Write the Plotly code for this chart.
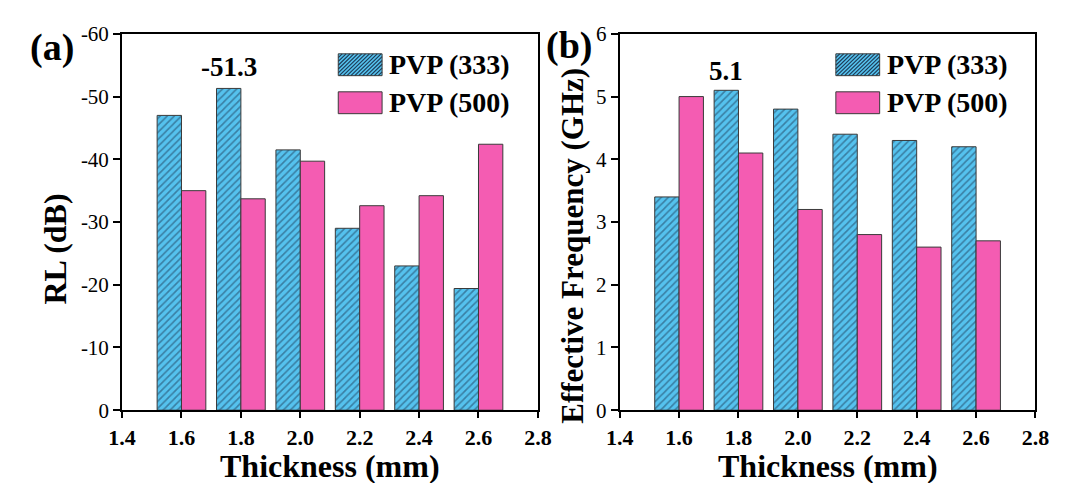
import plotly.graph_objects as go

# ---------------- data ----------------
thickness = [1.6, 1.8, 2.0, 2.2, 2.4, 2.6]
rl_pvp333 = [-47.0, -51.3, -41.5, -29.0, -23.0, -19.4]
rl_pvp500 = [-35.0, -33.7, -39.7, -32.6, -34.2, -42.4]
freq_pvp333 = [3.4, 5.1, 4.8, 4.4, 4.3, 4.2]
freq_pvp500 = [5.0, 4.1, 3.2, 2.8, 2.6, 2.7]
series_names = ["PVP (333)", "PVP (500)"]
x_ticks = [1.4, 1.6, 1.8, 2.0, 2.2, 2.4, 2.6, 2.8]
x_ticktext = ["1.4", "1.6", "1.8", "2.0", "2.2", "2.4", "2.6", "2.8"]
rl_ticks = [0, -10, -20, -30, -40, -50, -60]
rl_ticktext = ["0", "-10", "-20", "-30", "-40", "-50", "-60"]
freq_ticks = [0, 1, 2, 3, 4, 5, 6]
freq_ticktext = ["0", "1", "2", "3", "4", "5", "6"]

# ---------------- style ----------------
W, H = 1067, 483
FONT = "Liberation Serif"
BLUE = "#55C2EE"
HATCH = "#1E3C58"
PINK = "#F45CB2"
EDGE = "#3a3a3a"
BW = 0.082

def px2x(px):
    return px / W

def px2y(py):
    return 1 - py / H

# plot areas in pixels
L1, R1 = 111, 538
L2, R2 = 622, 1049
TOP, BOT = 23, 419

fig = go.Figure()

def add_bars(xa, ya, v333, v500):
    fig.add_trace(go.Bar(
        x=thickness, y=v333, name=series_names[0], width=BW, offset=-BW,
        marker=dict(color=BLUE, line=dict(color=EDGE, width=1),
                    pattern=dict(shape="/", size=5, solidity=0.33,
                                 fgcolor=HATCH, fillmode="overlay")),
        xaxis=xa, yaxis=ya, showlegend=False, hoverinfo="skip"))
    fig.add_trace(go.Bar(
        x=thickness, y=v500, name=series_names[1], width=BW, offset=0,
        marker=dict(color=PINK, line=dict(color=EDGE, width=1)),
        xaxis=xa, yaxis=ya, showlegend=False, hoverinfo="skip"))

add_bars("x", "y", rl_pvp333, rl_pvp500)
add_bars("x2", "y2", freq_pvp333, freq_pvp500)

xcommon = dict(range=[1.4, 2.8], tickvals=x_ticks, ticktext=x_ticktext,
               ticks="outside", ticklen=6, tickwidth=2, tickcolor="black",
               showline=True, linewidth=2, linecolor="black", mirror=True,
               showgrid=False, zeroline=False,
               tickfont=dict(family=FONT, size=22, color="black", weight="bold"))
ycommon = dict(ticks="outside", ticklen=7, tickwidth=2, tickcolor="black",
               showline=True, linewidth=2, linecolor="black", mirror=True,
               showgrid=False, zeroline=False,
               tickfont=dict(family=FONT, size=21, color="black"))

fig.update_layout(
    width=W, height=H, margin=dict(l=0, r=0, t=0, b=0),
    paper_bgcolor="white", plot_bgcolor="white", barmode="overlay",
    showlegend=False,
    xaxis=dict(domain=[px2x(L1), px2x(R1)], anchor="y", **xcommon),
    xaxis2=dict(domain=[px2x(L2), px2x(R2)], anchor="y2", **xcommon),
    yaxis=dict(domain=[px2y(BOT), px2y(TOP)], anchor="x", range=[0, -60],
               tickvals=rl_ticks, ticktext=rl_ticktext, **ycommon),
    yaxis2=dict(domain=[px2y(BOT), px2y(TOP)], anchor="x2", range=[0, 6],
                tickvals=freq_ticks, ticktext=freq_ticktext, **ycommon),
)

ann = []
def txt(x, y, s, size, bold=True, angle=0, xanchor="center", yanchor="middle"):
    ann.append(dict(x=px2x(x), y=px2y(y), xref="paper", yref="paper", text=s,
                    showarrow=False, textangle=angle, xanchor=xanchor, yanchor=yanchor,
                    font=dict(family=FONT, size=size, color="black",
                              weight="bold" if bold else "normal")))

# axis titles
txt((L1 + R1) / 2, 478, "Thickness (mm)", 32)
txt((L2 + R2) / 2, 478, "Thickness (mm)", 32)
txt(42, 249, "RL (dB)", 32, angle=-90)
txt(574, 246, "Effective Frequency (GHz)", 31, angle=-90)
# panel labels
txt(39, 37, "(a)", 38)
txt(570, 35, "(b)", 38)

# value labels on the peak bars
i1 = rl_pvp333.index(min(rl_pvp333))
ann.append(dict(x=thickness[i1] - BW / 2, y=rl_pvp333[i1], xref="x", yref="y",
                text=f"{rl_pvp333[i1]:.1f}", showarrow=False, yanchor="bottom", yshift=4,
                font=dict(family=FONT, size=27, color="black", weight="bold")))
i2 = freq_pvp333.index(max(freq_pvp333))
ann.append(dict(x=thickness[i2] - BW / 2, y=freq_pvp333[i2], xref="x2", yref="y2",
                text=f"{freq_pvp333[i2]:.1f}", showarrow=False, yanchor="bottom", yshift=2,
                font=dict(family=FONT, size=27, color="black", weight="bold")))

# custom legends
shapes = []
def hatch_path(x0, y0, x1, y1, step=4):
    segs = []
    c = x0 + y0 + step
    while c < x1 + y1:
        pts = []
        for xx in (x0, x1):
            yy = c - xx
            if y0 <= yy <= y1:
                pts.append((xx, yy))
        for yy in (y0, y1):
            xx = c - yy
            if x0 <= xx <= x1:
                pts.append((xx, yy))
        if len(pts) >= 2:
            pts = sorted(set(pts))
            (ax, ay), (bx, by) = pts[0], pts[-1]
            segs.append(f"M{px2x(ax):.5f},{px2y(ay):.5f}L{px2x(bx):.5f},{px2y(by):.5f}")
        c += step
    return "".join(segs)

def legend(left):
    sx0, sx1 = left + 222, left + 267
    rows = [(44, 67), (84, 107)]
    y0, y1 = rows[0]
    shapes.append(dict(type="rect", xref="paper", yref="paper",
                       x0=px2x(sx0), x1=px2x(sx1), y0=px2y(y1), y1=px2y(y0),
                       fillcolor=BLUE, line=dict(width=0), layer="above"))
    shapes.append(dict(type="path", xref="paper", yref="paper",
                       path=hatch_path(sx0, y0, sx1, y1), line=dict(color=HATCH, width=1.2),
                       layer="above"))
    shapes.append(dict(type="rect", xref="paper", yref="paper",
                       x0=px2x(sx0), x1=px2x(sx1), y0=px2y(y1), y1=px2y(y0),
                       fillcolor="rgba(0,0,0,0)", line=dict(color=EDGE, width=1), layer="above"))
    y0, y1 = rows[1]
    shapes.append(dict(type="rect", xref="paper", yref="paper",
                       x0=px2x(sx0), x1=px2x(sx1), y0=px2y(y1), y1=px2y(y0),
                       fillcolor=PINK, line=dict(color=EDGE, width=1), layer="above"))
    for (ya, yb), name in zip(rows, series_names):
        txt(sx1 + 5, (ya + yb) / 2, name, 28, bold=True, xanchor="left")

legend(L1)
legend(L2)

fig.update_layout(annotations=ann, shapes=shapes)
fig.write_html("out.html", config={"displayModeBar": False})
